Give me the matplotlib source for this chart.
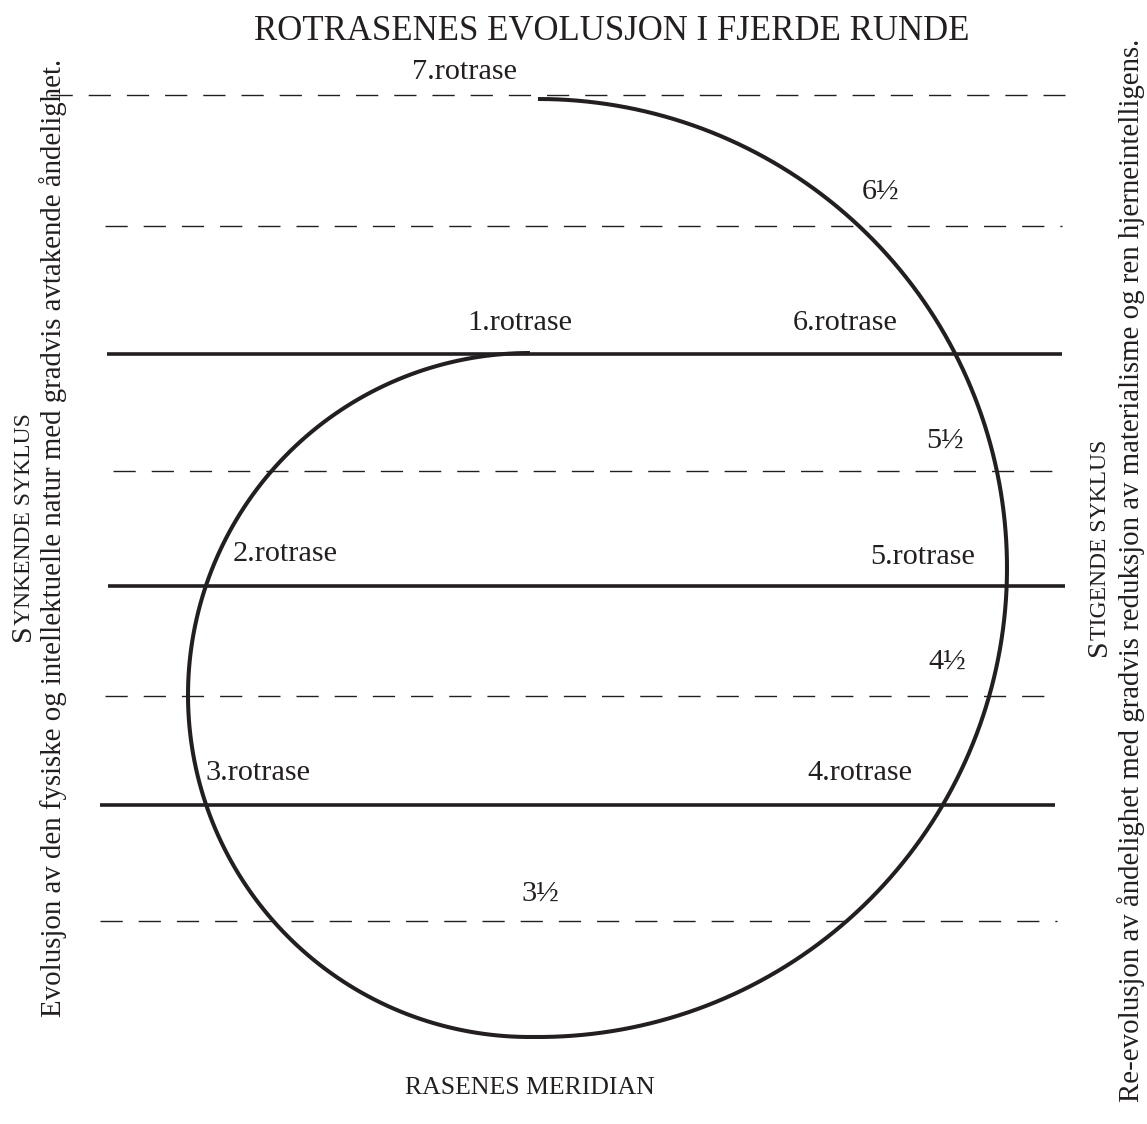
import numpy as np
import matplotlib
matplotlib.use("Agg")
import matplotlib.pyplot as plt

# ---------------- data ----------------
title = "ROTRASENES EVOLUSJON I FJERDE RUNDE"
bottom_label = "RASENES MERIDIAN"
left_head = ("S", "YNKENDE SYKLUS")
left_text = "Evolusjon av den fysiske og intellektuelle natur med gradvis avtakende åndelighet."
right_head = ("S", "TIGENDE SYKLUS")
right_text = "Re-evolusjon av åndelighet med gradvis reduksjon av materialisme og ren hjerneintelligens."

# horizontal level lines (y in picture pixels), style, x-extent
level_y      = [95, 226, 354, 471, 586, 696, 805, 921]
level_solid  = [False, False, True, False, True, False, True, False]
level_x0     = [50, 105, 107, 113, 108, 105, 100, 100]
level_x1     = [1065, 1062, 1062, 1060, 1065, 1057, 1055, 1057]

# level labels and their centre positions
label_text = ["7.rotrase", "6½", "1.rotrase", "6.rotrase", "5½", "2.rotrase",
              "5.rotrase", "4½", "3.rotrase", "4.rotrase", "3½"]
label_x    = [465, 881, 520, 845, 945, 285, 923, 947, 258, 860, 540]
label_y    = [72, 192, 323, 323, 441, 554, 557, 662, 773, 773, 894]

# spiral: two half circles (centre x, centre y, radius, start deg, end deg)
arc_cx  = [530, 538]
arc_cy  = [695, 568]
arc_r   = [342, 469]
arc_a0  = [90, 270]
arc_a1  = [270, 450]

INK = "#231f20"
SERIF = ["Liberation Serif", "DejaVu Serif"]

fig = plt.figure(figsize=(11.47, 11.24), dpi=100)
ax = fig.add_axes([0, 0, 1, 1])
ax.set_xlim(0, 1147)
ax.set_ylim(1124, 0)
ax.axis("off")

# level lines
for y, solid, x0, x1 in zip(level_y, level_solid, level_x0, level_x1):
    if solid:
        ax.plot([x0, x1], [y, y], color=INK, lw=2.6, solid_capstyle="butt")
    else:
        ax.plot([x0, x1], [y, y], color=INK, lw=1.0, dashes=(16, 11.5))

# spiral
xs, ys = [], []
for cx, cy, r, a0, a1 in zip(arc_cx, arc_cy, arc_r, arc_a0, arc_a1):
    t = np.radians(np.linspace(a0, a1, 300))
    xs.append(cx + r * np.cos(t))
    ys.append(cy - r * np.sin(t))
ax.plot(np.concatenate(xs), np.concatenate(ys), color=INK, lw=2.9,
        solid_capstyle="butt", solid_joinstyle="round")

# labels
for s, x, y in zip(label_text, label_x, label_y):
    ax.text(x, y, s, fontsize=21.8, family=SERIF, color=INK,
            ha="center", va="center")

ax.text(612, 31, title, fontsize=25, family=SERIF, color=INK,
        ha="center", va="center")
ax.text(530, 1088, bottom_label, fontsize=18.5, family=SERIF, color=INK,
        ha="center", va="center")

# vertical texts
ax.text(61, 538, left_text, fontsize=20.8, family=SERIF, color=INK,
        rotation=90, ha="center", va="baseline", rotation_mode="anchor")
ax.text(1139, 570, right_text, fontsize=20.8, family=SERIF, color=INK,
        rotation=90, ha="center", va="baseline", rotation_mode="anchor")

# small-caps headings: big first letter + small remainder
fig.canvas.draw()
renderer = fig.canvas.get_renderer()

def small_caps_vertical(x, y_center, head, big, small):
    first, rest = head
    t1 = ax.text(0, 0, first, fontsize=big, family=SERIF, rotation=90,
                 ha="left", va="baseline", rotation_mode="anchor")
    t2 = ax.text(0, 0, rest, fontsize=small, family=SERIF, rotation=90,
                 ha="left", va="baseline", rotation_mode="anchor")
    inv = ax.transData.inverted()
    def length(t):
        bb = t.get_window_extent(renderer)
        p0 = inv.transform((bb.x0, bb.y0))
        p1 = inv.transform((bb.x0, bb.y1))
        return abs(p1[1] - p0[1])
    l1, l2 = length(t1), length(t2)
    t1.remove(); t2.remove()
    y0 = y_center + (l1 + l2) / 2.0
    ax.text(x, y0, first, fontsize=big, family=SERIF, color=INK, rotation=90,
            ha="left", va="baseline", rotation_mode="anchor")
    ax.text(x, y0 - l1, rest, fontsize=small, family=SERIF, color=INK, rotation=90,
            ha="left", va="baseline", rotation_mode="anchor")

small_caps_vertical(30, 527, left_head, 21.5, 17)
small_caps_vertical(1106, 548, right_head, 21.5, 17)

fig.savefig("out.png", dpi=100, facecolor="white")
